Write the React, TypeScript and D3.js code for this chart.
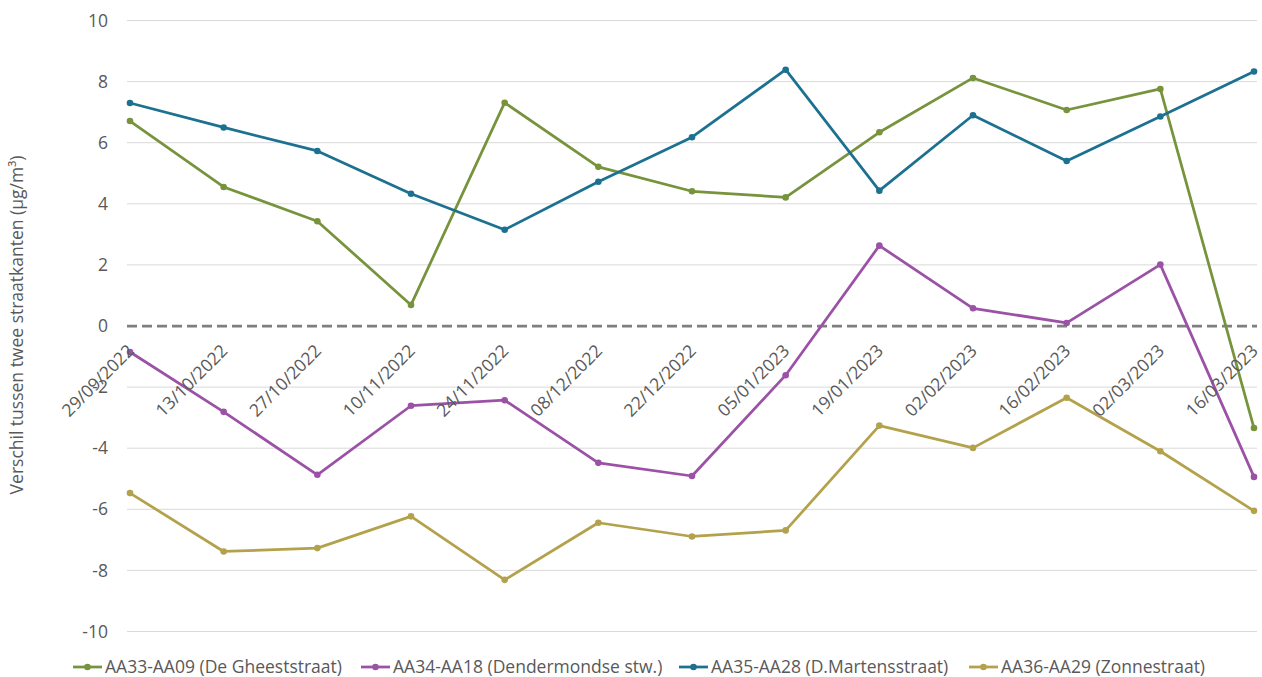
import React, { useEffect, useRef } from "react";
import * as d3 from "d3";

const dates = [
  "29/09/2022", "13/10/2022", "27/10/2022", "10/11/2022", "24/11/2022",
  "08/12/2022", "22/12/2022", "05/01/2023", "19/01/2023", "02/02/2023",
  "16/02/2023", "02/03/2023", "16/03/2023",
];

const gheeststraat = [6.71, 4.55, 3.43, 0.69, 7.31, 5.21, 4.41, 4.21, 6.34, 8.12, 7.07, 7.76, -3.34];
const dendermondse = [-0.85, -2.81, -4.87, -2.61, -2.43, -4.48, -4.91, -1.61, 2.63, 0.58, 0.1, 2.01, -4.94];
const martensstraat = [7.3, 6.5, 5.73, 4.33, 3.15, 4.72, 6.18, 8.39, 4.43, 6.9, 5.4, 6.86, 8.33];
const zonnestraat = [-5.47, -7.38, -7.27, -6.23, -8.31, -6.44, -6.89, -6.69, -3.26, -3.99, -2.35, -4.1, -6.05];

const yTicks = [-10, -8, -6, -4, -2, 0, 2, 4, 6, 8, 10];

const seriesNames = [
  "AA33-AA09 (De Gheeststraat)",
  "AA34-AA18 (Dendermondse stw.)",
  "AA35-AA28 (D.Martensstraat)",
  "AA36-AA29 (Zonnestraat)",
];
const seriesColors = ["#77933C", "#9B51A6", "#1D7190", "#B3A24B"];
const seriesValues = [gheeststraat, dendermondse, martensstraat, zonnestraat];

const W = 1262;
const H = 677;
const FONT = "'Open Sans', Lato, sans-serif";
const FS = 17.5;

export default function App() {
  const ref = useRef<SVGSVGElement>(null);

  useEffect(() => {
    const svg = d3.select(ref.current);
    svg.selectAll("*").remove();

    const x = d3.scalePoint<string>().domain(dates).range([130, 1254]);
    const y = d3.scaleLinear().domain([-10, 10]).range([631.5, 20.5]);

    const gridLeft = 127;
    const gridRight = 1257;

    // horizontal gridlines
    svg.append("g")
      .selectAll("line")
      .data(yTicks.filter((t) => t !== 0))
      .join("line")
      .attr("x1", gridLeft)
      .attr("x2", gridRight)
      .attr("y1", (d) => y(d))
      .attr("y2", (d) => y(d))
      .attr("stroke", "#D9D9D9")
      .attr("stroke-width", 1);

    // zero line (dashed)
    svg.append("line")
      .attr("x1", gridLeft)
      .attr("x2", gridRight)
      .attr("y1", y(0))
      .attr("y2", y(0))
      .attr("stroke", "#7F7F7F")
      .attr("stroke-width", 2.75)
      .attr("stroke-dasharray", "10,5");

    // y tick labels
    svg.append("g")
      .selectAll("text")
      .data(yTicks)
      .join("text")
      .attr("x", 108)
      .attr("y", (d) => y(d))
      .attr("dy", "0.35em")
      .attr("text-anchor", "end")
      .attr("font-family", FONT)
      .attr("font-size", FS)
      .attr("fill", "#595959")
      .text((d) => String(d));

    // y axis title
    svg.append("text")
      .attr("transform", `translate(23,${325}) rotate(-90)`)
      .attr("text-anchor", "middle")
      .attr("font-family", FONT)
      .attr("font-size", FS)
      .attr("fill", "#595959")
      .text("Verschil tussen twee straatkanten (µg/m³)");

    // series lines and markers
    const line = d3.line<number>()
      .x((_, i) => x(dates[i]) as number)
      .y((d) => y(d));

    seriesValues.forEach((vals, si) => {
      const g = svg.append("g");
      g.append("path")
        .datum(vals)
        .attr("d", line)
        .attr("fill", "none")
        .attr("stroke", seriesColors[si])
        .attr("stroke-width", 2.75)
        .attr("stroke-linejoin", "round");
      g.selectAll("circle")
        .data(vals)
        .join("circle")
        .attr("cx", (_, i) => x(dates[i]) as number)
        .attr("cy", (d) => y(d))
        .attr("r", 3.3)
        .attr("fill", seriesColors[si]);
    });

    // category labels, rotated, next to the zero axis
    svg.append("g")
      .selectAll("text")
      .data(dates)
      .join("text")
      .attr("transform", (d) => `translate(${(x(d) as number) + 5},${y(0) + 26}) rotate(-45)`)
      .attr("text-anchor", "end")
      .attr("font-family", FONT)
      .attr("font-size", FS)
      .attr("fill", "#595959")
      .text((d) => d);

    // legend
    const legendX = [73, 361, 679, 969];
    const legendY = 667;
    const lg = svg.append("g");
    seriesNames.forEach((name, i) => {
      const lx = legendX[i];
      lg.append("line")
        .attr("x1", lx)
        .attr("x2", lx + 29)
        .attr("y1", legendY)
        .attr("y2", legendY)
        .attr("stroke", seriesColors[i])
        .attr("stroke-width", 2.75);
      lg.append("circle")
        .attr("cx", lx + 14.5)
        .attr("cy", legendY)
        .attr("r", 3.3)
        .attr("fill", seriesColors[i]);
      lg.append("text")
        .attr("x", lx + 32)
        .attr("y", legendY)
        .attr("dy", "0.35em")
        .attr("font-family", FONT)
        .attr("font-size", FS)
        .attr("fill", "#595959")
        .text(name);
    });
  }, []);

  return (
    <svg
      ref={ref}
      width={W}
      height={H}
      style={{ position: "absolute", left: 0, top: 0, background: "#fff" }}
    />
  );
}
